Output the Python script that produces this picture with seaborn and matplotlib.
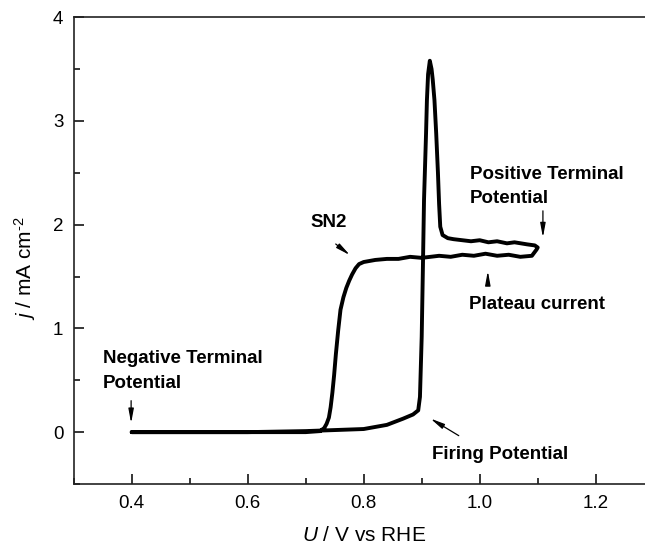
import matplotlib
matplotlib.use("Agg")
import matplotlib.pyplot as plt
import seaborn as sns
import pandas as pd
from matplotlib.ticker import MultipleLocator

# Data (one continuous scan: forward then return)
U_fwd = [0.40, 0.50, 0.60, 0.70, 0.75, 0.80, 0.84, 0.868, 0.885, 0.894, 0.897,
         0.900, 0.902, 0.904, 0.9075, 0.909, 0.911, 0.914, 0.917, 0.919, 0.922,
         0.925, 0.928, 0.930, 0.932, 0.936, 0.945, 0.955, 0.97, 0.985, 1.00,
         1.015, 1.03, 1.047, 1.06, 1.082, 1.095, 1.100]
j_fwd = [0.00, 0.00, 0.00, 0.01, 0.02, 0.03, 0.07, 0.13, 0.17, 0.21, 0.34,
         0.92, 1.56, 2.24, 2.88, 3.20, 3.45, 3.58, 3.50, 3.40, 3.20,
         2.88, 2.50, 2.20, 1.98, 1.90, 1.87, 1.86, 1.85, 1.84, 1.85,
         1.83, 1.84, 1.82, 1.83, 1.81, 1.80, 1.78]
U_rev = [1.098, 1.09, 1.07, 1.05, 1.03, 1.01, 0.99, 0.97, 0.95, 0.93,
         0.915, 0.90, 0.88, 0.86, 0.84, 0.82, 0.81, 0.80, 0.792, 0.786,
         0.780, 0.775, 0.770, 0.765, 0.760, 0.756, 0.752, 0.749, 0.746,
         0.743, 0.740, 0.736, 0.732, 0.725, 0.70, 0.60, 0.50, 0.40]
j_rev = [1.76, 1.70, 1.69, 1.71, 1.70, 1.72, 1.70, 1.71, 1.69, 1.70,
         1.69, 1.68, 1.69, 1.67, 1.67, 1.66, 1.65, 1.64, 1.62, 1.58,
         1.52, 1.46, 1.39, 1.30, 1.18, 0.98, 0.75, 0.55, 0.38,
         0.24, 0.14, 0.08, 0.04, 0.01, 0.00, 0.00, 0.00, 0.00]

xticks = [0.4, 0.6, 0.8, 1.0, 1.2]
yticks = [0, 1, 2, 3, 4]

df = pd.DataFrame({"U": U_fwd + U_rev, "j": j_fwd + j_rev})

sns.set_theme(style="ticks")
plt.rcParams["font.family"] = ["Liberation Sans", "DejaVu Sans"]
plt.rcParams["text.color"] = "black"
plt.rcParams["axes.labelcolor"] = "black"
plt.rcParams["mathtext.fontset"] = "custom"
plt.rcParams["mathtext.rm"] = "Liberation Sans"
plt.rcParams["mathtext.it"] = "Liberation Sans:italic"
plt.rcParams["mathtext.bf"] = "Liberation Sans:bold"

fig = plt.figure(figsize=(6.45, 5.53), dpi=100)
ax = fig.add_axes([73.7 / 645, 69 / 553, 580 / 645, 466.8 / 553])

sns.lineplot(data=df, x="U", y="j", sort=False, estimator=None,
             color="black", linewidth=2.8, ax=ax)

ax.set_xlim(0.3, 1.3)
ax.set_ylim(-0.5, 4)
ax.set_xticks(xticks)
ax.set_xticklabels([f"{v:.1f}" for v in xticks])
ax.set_yticks(yticks)
ax.set_yticklabels([str(v) for v in yticks])
ax.xaxis.set_minor_locator(MultipleLocator(0.1))
ax.yaxis.set_minor_locator(MultipleLocator(0.5))
ax.tick_params(which="both", direction="in", colors="black", labelsize=13.5)
ax.tick_params(which="major", length=7, width=1.1)
ax.tick_params(which="minor", length=4, width=1.1)
ax.tick_params(axis="x", pad=8)
ax.tick_params(axis="y", pad=7.5)
for s in ax.spines.values():
    s.set_linewidth(1.2)
    s.set_color("#222222")

ax.set_xlabel(r"$\it{U}$ / V vs RHE", fontsize=15)
ax.set_ylabel("$\\it{j}$ / mA cm$^{\\text{-}2}$", fontsize=15)
ax.yaxis.set_label_coords(-0.084, 0.463)
ax.yaxis.label.set_verticalalignment("center")
ax.xaxis.set_label_coords(0.5, -0.09)

fs = 13.5
tkw = dict(fontsize=fs, fontweight="bold", ha="left", va="baseline", color="black")
akw = dict(arrowstyle="-|>,head_length=0.7,head_width=0.13", color="black", lw=0.9)

ax.text(0.3505, 0.668, "Negative Terminal", **tkw)
ax.text(0.3505, 0.421, "Potential", **tkw)
ax.annotate("", xy=(0.399, 0.06), xytext=(0.399, 0.33), arrowprops=akw)

ax.text(0.709, 1.977, "SN2", **tkw)
ax.annotate("", xy=(0.78, 1.69), xytext=(0.748, 1.83), arrowprops=akw)

ax.text(0.983, 2.44, "Positive Terminal", **tkw)
ax.text(0.983, 2.208, "Potential", **tkw)
ax.annotate("", xy=(1.109, 1.85), xytext=(1.109, 2.16), arrowprops=akw)

ax.text(0.981, 1.186, "Plateau current", **tkw)
ax.annotate("", xy=(1.014, 1.58), xytext=(1.014, 1.42), arrowprops=akw)

ax.text(0.918, -0.26, "Firing Potential", **tkw)
ax.annotate("", xy=(0.911, 0.145), xytext=(0.968, -0.048), arrowprops=akw)

fig.savefig("out.png", dpi=100)
